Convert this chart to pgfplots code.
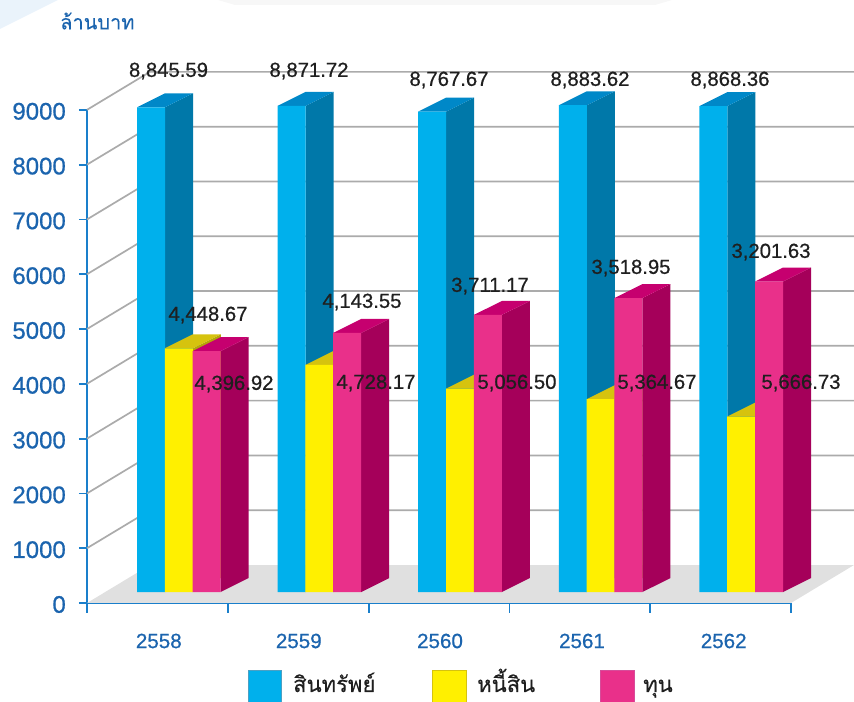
\documentclass[border=0pt]{standalone}
\usepackage{pgfplots}
\pgfplotsset{compat=1.18}
\usepackage{pgfplotstable}
\usepackage{fontspec}
\setmainfont[FakeBold=0.7]{Liberation Sans}
\newfontfamily\thaifont[Script=Thai,FakeBold=0.25]{Loma}
\definecolor{axisblue}{HTML}{1A7FCB}
\definecolor{labelblue}{HTML}{1B64AE}
\definecolor{gridgray}{HTML}{ABABAB}
\definecolor{floorgray}{HTML}{E0E0E0}
\definecolor{cornerblue}{HTML}{EAF3FB}
\definecolor{bluef}{HTML}{00B0EC}
\definecolor{blues}{HTML}{0078A9}
\definecolor{bluet}{HTML}{0088C8}
\definecolor{yelf}{HTML}{FFF000}
\definecolor{yels}{HTML}{B5A50A}
\definecolor{yelt}{HTML}{D6C30E}
\definecolor{pinkf}{HTML}{E9308A}
\definecolor{pinks}{HTML}{A5005A}
\definecolor{pinkt}{HTML}{C6006F}
% x is the left edge of the blue bar, in picture units
\pgfplotstableread{
x asset debt equity
137.0 8845.59 4448.67 4396.92
277.6 8871.72 4143.55 4728.17
418.2 8767.67 3711.17 5056.50
558.8 8883.62 3518.95 5364.67
699.4 8868.36 3201.63 5666.73
}\datatable
\newcommand\faces[4]{% left edge, value, side colour, top colour
  \pgfmathsetmacro\xa{#1}\pgfmathsetmacro\xb{#1+28}\pgfmathsetmacro\xc{#1+56}%
  \pgfmathsetmacro\vt{#2+255}%
  \addplot[fill=#3,draw=none] coordinates {(\xb,0)(\xb,#2)(\xc,\vt)(\xc,255)} --cycle;
  \addplot[fill=#4,draw=none] coordinates {(\xa,#2)(\xb,#2)(\xc,\vt)(\xb,\vt)} --cycle;
}
\newcommand\gridl[1]{%
  \pgfmathsetmacro\vb{#1+693}%
  \addplot[color=gridgray,line width=1.7bp] coordinates {(87,#1)(150,\vb)(854,\vb)};
}
\newcommand\lbl[3]{\node[font=\fontsize{20.3bp}{22bp}\selectfont,text=black!88,inner sep=0pt] at (axis cs:#1,{(592-#2-1)/0.0548}) {#3};}
\begin{document}
\begin{tikzpicture}[x=1bp,y=1bp]
\path[use as bounding box] (0,0) rectangle (854,702);
\fill[cornerblue] (0,702) -- (58,702) -- (0,673) -- cycle;
\fill[black!3] (218,702) -- (672,702) -- (655,697) -- (235,697) -- cycle;
\begin{axis}[
  at={(87bp,99bp)},
  anchor=south west,
  x=1bp,y=0.0548bp,
  xmin=87,xmax=791,ymin=-200,ymax=8800,
  clip=false,
  axis x line=bottom,axis y line=left,
  axis line style={-,color=axisblue,line width=2bp},
  tick align=outside,
  ytick={-200,800,1800,2800,3800,4800,5800,6800,7800,8800},
  yticklabels={0,1000,2000,3000,4000,5000,6000,7000,8000,9000},
  xtick={158.8,298.8,440,582,723.7},
  xticklabels={2558,2559,2560,2561,2562},
  minor xtick={87,227.8,368.6,509.4,650.2,791},
  major x tick style={draw=none},
  minor x tick style={color=axisblue,line width=1.8bp},
  major y tick style={color=axisblue,line width=1.8bp},
  minor tick length=10bp,
  major tick length=8bp,
  yticklabel style={font=\fontsize{24bp}{26bp}\selectfont,text=labelblue,anchor=east,inner sep=0pt,xshift=-13bp,yshift=-1.5bp},
  xticklabel style={font=\fontsize{20.6bp}{22bp}\selectfont,text=labelblue,anchor=center,yshift=-30bp},
]
% floor and walls
\addplot[fill=floorgray,draw=none] coordinates {(87,-200)(150,493)(854,493)(791,-200)} --cycle;
\gridl{800}\gridl{1800}\gridl{2800}\gridl{3800}\gridl{4800}\gridl{5800}\gridl{6800}\gridl{7800}\gridl{8800}
% blue
\faces{137.0}{8845.59}{blues}{bluet}\faces{277.6}{8871.72}{blues}{bluet}\faces{418.2}{8767.67}{blues}{bluet}\faces{558.8}{8883.62}{blues}{bluet}\faces{699.4}{8868.36}{blues}{bluet}
\addplot[ybar,bar width=28bp,bar shift=0pt,fill=bluef,draw=none] table[x expr=\thisrow{x}+14,y=asset] {\datatable};
% yellow
\faces{164.8}{4448.67}{yels}{yelt}\faces{305.4}{4143.55}{yels}{yelt}\faces{446.0}{3711.17}{yels}{yelt}\faces{586.6}{3518.95}{yels}{yelt}\faces{727.2}{3201.63}{yels}{yelt}
\addplot[ybar,bar width=28bp,bar shift=0pt,fill=yelf,draw=none] table[x expr=\thisrow{x}+41.8,y=debt] {\datatable};
% pink
\faces{192.6}{4396.92}{pinks}{pinkt}\faces{333.2}{4728.17}{pinks}{pinkt}\faces{473.8}{5056.50}{pinks}{pinkt}\faces{614.4}{5364.67}{pinks}{pinkt}\faces{755.0}{5666.73}{pinks}{pinkt}
\addplot[ybar,bar width=28bp,bar shift=0pt,fill=pinkf,draw=none] table[x expr=\thisrow{x}+69.6,y=equity] {\datatable};
% labels
\lbl{168.5}{70}{8,845.59}\lbl{309}{70}{8,871.72}\lbl{449}{79}{8,767.67}\lbl{590}{79}{8,883.62}\lbl{730}{79}{8,868.36}
\lbl{208}{314}{4,448.67}\lbl{362}{301}{4,143.55}\lbl{490}{285}{3,711.17}\lbl{631}{267}{3,518.95}\lbl{771}{251}{3,201.63}
\lbl{234}{383}{4,396.92}\lbl{376}{382}{4,728.17}\lbl{517}{382}{5,056.50}\lbl{657}{382}{5,364.67}\lbl{801}{382}{5,666.73}
\end{axis}
% title and legend
\node[anchor=west,inner sep=0pt,text=labelblue,font=\thaifont\fontsize{20bp}{22bp}\selectfont] at (60,681) {ล้านบาท};
\draw[fill=bluef,draw=blues!70,line width=1bp] (248,-1) rectangle (281,31);
\draw[fill=yelf,draw=yelt,line width=1bp] (432,-1) rectangle (466,31);
\draw[fill=pinkf,draw=pinkt!70,line width=1bp] (600,-1) rectangle (634,31);
\node[anchor=base west,inner sep=0pt,text=black!88,font=\thaifont\fontsize{22bp}{24bp}\selectfont] at (293,10) {สินทรัพย์};
\node[anchor=base west,inner sep=0pt,text=black!88,font=\thaifont\fontsize{22bp}{24bp}\selectfont] at (477,10) {หนี้สิน};
\node[anchor=base west,inner sep=0pt,text=black!88,font=\thaifont\fontsize{22bp}{24bp}\selectfont] at (643,10) {ทุน};
\end{tikzpicture}
\end{document}
